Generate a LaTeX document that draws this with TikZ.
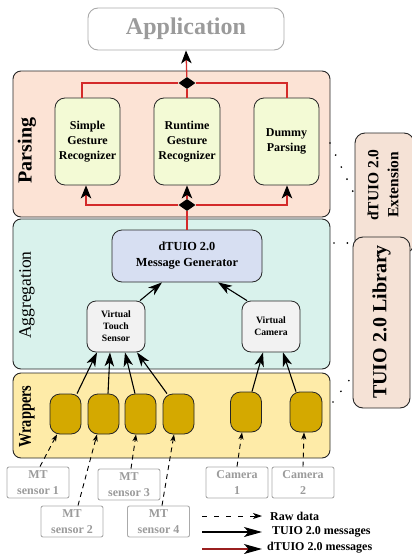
\documentclass[tikz,border=0pt]{standalone}
\usepackage{fontspec}
\setmainfont{Liberation Serif}
\newfontfamily\narrowserif[FakeStretch=0.8]{Liberation Serif}
\usetikzlibrary{arrows.meta,shapes.geometric}

\definecolor{parsefill}{HTML}{FCE3D5}
\definecolor{aggrfill}{HTML}{D9F2EC}
\definecolor{wrapfill}{HTML}{FEEBA8}
\definecolor{recfill}{HTML}{F3FAD5}
\definecolor{genfill}{HTML}{D7DFF2}
\definecolor{virtfill}{HTML}{F2F2F2}
\definecolor{goldfill}{HTML}{D4A900}
\definecolor{libfill}{HTML}{F5E2D6}
\definecolor{dred}{HTML}{D42A2A}
\definecolor{legred}{HTML}{9A1F1F}
\definecolor{ghost}{HTML}{9B9B9B}
\definecolor{ghostline}{HTML}{AAAAAA}

\begin{document}
\begin{tikzpicture}[x=1pt,y=-1pt,
  layerbox/.style={draw=black!85, line width=0.9pt, rounded corners=8pt, inner sep=0pt},
  recbox/.style={draw=black!85, line width=0.8pt, rounded corners=10pt, fill=recfill,
    inner sep=0pt, align=center, font=\bfseries\fontsize{12}{15}\selectfont},
  genbox/.style={draw=black!85, line width=0.8pt, rounded corners=10pt, fill=genfill,
    inner sep=0pt, align=center, font=\bfseries\fontsize{12.3}{16}\selectfont},
  virtbox/.style={draw=black!85, line width=0.8pt, rounded corners=9pt, fill=virtfill,
    inner sep=0pt, align=center, font=\bfseries\fontsize{9.7}{12}\selectfont,
    minimum width=58pt, minimum height=51pt},
  wrapbox/.style={draw=black!85, line width=0.8pt, rounded corners=10pt, fill=goldfill,
    inner sep=0pt, minimum width=31pt, minimum height=40pt},
  srcbox/.style={draw=ghostline, line width=0.9pt, rounded corners=2pt, fill=white,
    inner sep=0pt, align=center, text=ghost, font=\bfseries\fontsize{12}{16}\selectfont,
    minimum width=62pt, minimum height=31pt},
  libbox/.style={draw=black!85, line width=0.9pt, rounded corners=10pt, fill=libfill, inner sep=0pt},
  layerlabel/.style={rotate=90, inner sep=0pt},
  diam/.style={diamond, fill=black, inner sep=0pt, minimum width=17pt, minimum height=12pt},
  tuio/.style={line width=1.1pt, -{Stealth[length=14pt,width=9.5pt,inset=4pt]}},
  raw/.style={line width=0.9pt, dash pattern=on 5pt off 4pt, -{Stealth[length=7pt,width=5pt,inset=2pt]}},
  dtuio/.style={line width=1.3pt, draw=dred, -{Stealth[black,length=13pt,width=10.5pt,inset=3.5pt]}},
  dline/.style={line width=1.3pt, draw=dred},
  dots/.style={line width=1.9pt, line cap=round, dash pattern=on 0pt off 13.3pt}
]
\useasboundingbox (0,0) rectangle (412,554);

% application on top
\node[draw=ghostline, line width=0.9pt, rounded corners=10pt, fill=white,
      minimum width=196pt, minimum height=42pt, inner sep=0pt, text=ghost,
      font=\bfseries\fontsize{24}{24}\selectfont] (app) at (186,29) {Application};

% the three layers
\node[layerbox, fill=parsefill, minimum width=317pt, minimum height=146pt] (parsing) at (171.5,144) {};
\node[layerbox, fill=aggrfill,  minimum width=317pt, minimum height=150pt] (aggr) at (171.5,294) {};
\node[layerbox, fill=wrapfill,  minimum width=317pt, minimum height=85pt]  (wrap) at (171.5,415.5) {};

\node[layerlabel, font=\bfseries\fontsize{20}{20}\selectfont] (lparse) at (27,150.5) {Parsing};
\node[layerlabel, font=\fontsize{17.5}{18}\selectfont] (laggr) at (27,295) {Aggregation};
\node[layerlabel, font=\narrowserif\bfseries\fontsize{18}{18}\selectfont] (lwrap) at (27,416.5) {Wrappers};

% library blocks on the right
\node[libbox, minimum width=59pt, minimum height=120pt] (ext) at (384.5,193) {};
\node[layerlabel, align=center, font=\bfseries\fontsize{15.5}{20}\selectfont] (lext) at (383,185) {dTUIO 2.0\\Extension};
\node[libbox, minimum width=57pt, minimum height=171pt] (lib) at (381.5,322.5) {};
\node[layerlabel, font=\bfseries\fontsize{20}{20}\selectfont] (llib) at (381.5,322) {TUIO 2.0 Library};

% parsing layer
\node[recbox, minimum width=65pt, minimum height=87pt] (sgr) at (87.5,141.5) {Simple\\Gesture\\Recognizer};
\node[recbox, minimum width=66pt, minimum height=87pt] (rgr) at (187,141.5) {Runtime\\Gesture\\Recognizer};
\node[recbox, minimum width=65pt, minimum height=87pt] (dp) at (286.5,141.5) {Dummy\\Parsing};

% aggregation layer
\node[genbox, minimum width=150pt, minimum height=52pt] (mg) at (187,256) {dTUIO 2.0\\Message Generator};
\node[virtbox] (vts) at (116,326.5) {Virtual\\Touch\\Sensor};
\node[virtbox] (vc) at (271,326.5) {Virtual\\Camera};

% wrappers
\node[wrapbox] (w1) at (65.5,414) {};
\node[wrapbox] (w2) at (103.5,414) {};
\node[wrapbox] (w3) at (140.5,414) {};
\node[wrapbox] (w4) at (178.5,414) {};
\node[wrapbox] (w5) at (246,412) {};
\node[wrapbox, minimum width=32pt] (w6) at (306,412) {};

% raw input devices
\node[srcbox] (s1) at (38,482.5) {MT\\sensor 1};
\node[srcbox] (s2) at (72,521.5) {MT\\sensor 2};
\node[srcbox] (s3) at (129,484.5) {MT\\sensor 3};
\node[srcbox] (s4) at (158.5,521.5) {MT\\sensor 4};
\node[srcbox] (c1) at (237,482.5) {Camera\\1};
\node[srcbox] (c2) at (303,482.5) {Camera\\2};

% raw data into the wrappers
\draw[raw] ([xshift=2pt]s1.north) -- ([xshift=-8.5pt]w1.south);
\draw[raw] ([xshift=6pt]s2.north) -- ([xshift=-6.5pt]w2.south);
\draw[raw] ([xshift=2pt]s3.north) -- ([xshift=-4.5pt]w3.south);
\draw[raw] ([xshift=3.5pt]s4.north) -- ([xshift=-4.5pt]w4.south);
\draw[raw] (c1.north) -- ([xshift=-4pt]w5.south);
\draw[raw] (c2.north) -- ([xshift=-2pt]w6.south);

% TUIO 2.0 messages
\draw[tuio] ([xshift=11.5pt]w1.north) -- ([xshift=-19pt]vts.south);
\draw[tuio] ([xshift=4.5pt]w2.north) -- ([xshift=-6pt]vts.south);
\draw[tuio] ([xshift=-5.5pt]w3.north) -- ([xshift=9pt]vts.south);
\draw[tuio] ([xshift=-11.5pt]w4.north) -- ([xshift=21pt]vts.south);
\draw[tuio] ([xshift=6pt]w5.north) -- ([xshift=-8pt]vc.south);
\draw[tuio] ([xshift=-10pt]w6.north) -- ([xshift=12pt]vc.south);
\draw[tuio] ([xshift=24pt]vts.north) -- ([xshift=-25pt]mg.south);
\draw[tuio] ([xshift=-24pt]vc.north) -- ([xshift=31pt]mg.south);

% dTUIO 2.0 messages
\node[diam] (dbot) at (187,205) {};
\node[diam] (dtop) at (187,83) {};
\draw[dline] (mg.north) -- (dbot);
\draw[dtuio] (dbot) -| ([xshift=-1.5pt]sgr.south);
\draw[dtuio] (dbot) -- (rgr.south);
\draw[dtuio] (dbot) -| ([xshift=0.5pt]dp.south);
\draw[dline] ([xshift=-5.5pt]sgr.north) |- (dtop);
\draw[dline] (rgr.north) -- (dtop);
\draw[dline] ([xshift=0.5pt]dp.north) |- (dtop);
\draw[dtuio] (dtop) -- (app.south);

% dotted links to the library blocks
\coordinate (pa) at (330,143);
\coordinate (pb) at (355,196);
\coordinate (aa) at (334,243);
\coordinate (ab) at (353,243);
\coordinate (wa) at (333,402);
\coordinate (wb) at (353,375);
\draw[dots] (pa) -- (pb);
\draw[dots] (aa) -- (ab);
\draw[dots] (wa) -- (wb);

% legend
\coordinate (la1) at (202,516);
\coordinate (lb1) at (262,516);
\coordinate (la2) at (202,532);
\coordinate (lb2) at (262,532);
\coordinate (la3) at (202,549);
\coordinate (lb3) at (262,549);
\draw[line width=0.9pt, dash pattern=on 5pt off 7pt, -{Stealth[length=9pt,width=6pt,inset=2.5pt]}] (la1) -- (lb1);
\draw[line width=1.1pt, -{Stealth[length=18pt,width=10pt,inset=4.5pt]}] (la2) -- (lb2);
\draw[line width=1.2pt, draw=legred, -{Stealth[black,length=18pt,width=10pt,inset=4.5pt]}] (la3) -- (lb3);
\node[anchor=west, inner sep=0pt, font=\bfseries\fontsize{12}{12}\selectfont] (t1) at (270,516) {Raw data};
\node[anchor=west, inner sep=0pt, font=\bfseries\fontsize{12}{12}\selectfont] (t2) at (272,532) {TUIO 2.0 messages};
\node[anchor=west, inner sep=0pt, font=\bfseries\fontsize{12}{12}\selectfont] (t3) at (267,548) {dTUIO 2.0 messages};
\end{tikzpicture}
\end{document}
